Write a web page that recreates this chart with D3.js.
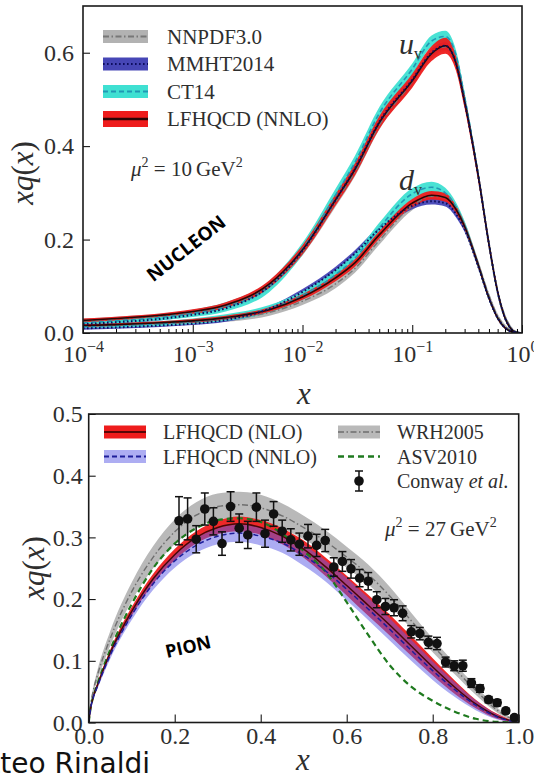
<!DOCTYPE html>
<html>
<head>
<meta charset="utf-8">
<script src="https://cdn.jsdelivr.net/npm/d3@7"></script>
<style>
  body { margin: 0; background: #fff; }
  svg { display: block; }
</style>
</head>
<body>
<script>
// valence distributions xq(x)

// ---- nucleon panel (log x), mu^2 = 10 GeV^2
const nucX = [1e-4, 2e-4, 5e-4, 1e-3, 2e-3, 5e-3, 1e-2, 2e-2, 3e-2, 5e-2, 0.1, 0.15, 0.2, 0.25, 0.3, 0.4, 0.5, 0.6, 0.7, 0.8, 0.9, 1.0];

const nnpdfU    = [.026, .030, .036, .044, .058, .102, .175, .280, .345, .445, .538, .598, .613, .578, .497, .338, .193, .090, .036, .011, .002, 0];
const nnpdfUErr = [.005, .005, .005, .006, .007, .008, .009, .010, .010, .010, .010, .010, .010, .010, .010, .009, .008, .007, .005, .003, .001, 0];
const nnpdfD    = [.015, .017, .020, .024, .030, .044, .068, .105, .138, .198, .272, .293, .290, .266, .230, .148, .080, .036, .014, .005, .001, 0];
const nnpdfDErr = [.004, .004, .004, .005, .006, .007, .008, .009, .009, .009, .009, .009, .009, .008, .008, .007, .006, .005, .004, .002, .001, 0];

const mmhtU    = [.019, .023, .030, .039, .053, .100, .176, .285, .352, .452, .542, .600, .615, .578, .495, .335, .190, .088, .032, .008, .001, 0];
const mmhtUErr = [.003, .003, .003, .003, .004, .005, .006, .007, .008, .008, .008, .008, .008, .008, .007, .006, .005, .004, .002, .001, 0, 0];
const mmhtD    = [.010, .012, .016, .020, .028, .052, .088, .135, .170, .222, .272, .282, .278, .255, .222, .142, .074, .032, .011, .003, .0005, 0];
const mmhtDErr = [.003, .003, .003, .003, .004, .005, .006, .007, .007, .007, .007, .007, .007, .007, .006, .005, .004, .003, .002, .001, 0, 0];

const ct14U    = [.022, .026, .033, .042, .056, .100, .180, .295, .365, .470, .565, .625, .635, .595, .505, .338, .190, .087, .032, .008, .001, 0];
const ct14UErr = [.004, .005, .006, .008, .010, .012, .013, .014, .014, .013, .012, .012, .012, .011, .010, .008, .006, .004, .002, .001, 0, 0];
const ct14D    = [.014, .016, .020, .025, .033, .052, .080, .125, .160, .225, .298, .312, .300, .270, .230, .145, .075, .032, .011, .003, .0005, 0];
const ct14DErr = [.003, .004, .005, .006, .007, .008, .009, .010, .010, .011, .012, .012, .011, .010, .009, .007, .005, .003, .002, .001, 0, 0];

const lfU    = [.027, .031, .038, .046, .060, .105, .178, .285, .350, .450, .540, .598, .615, .578, .495, .335, .190, .088, .032, .008, .001, 0];
const lfUErr = [.004, .004, .004, .005, .006, .008, .010, .012, .013, .014, .015, .016, .017, .016, .014, .011, .008, .005, .003, .001, 0, 0];
const lfD    = [.016, .018, .022, .026, .033, .050, .077, .118, .150, .210, .278, .295, .290, .265, .228, .145, .075, .032, .011, .003, .0005, 0];
const lfDErr = [.003, .003, .003, .004, .004, .005, .006, .007, .008, .008, .009, .009, .009, .008, .007, .006, .004, .003, .002, .001, 0, 0];

const nucXTicks = [1e-4, 1e-3, 1e-2, 1e-1, 1];
const nucXExp = ["\u22124", "\u22123", "\u22122", "\u22121", "0"];
const nucYTicks = [0.0, 0.2, 0.4, 0.6];
const nucLegend = ["NNPDF3.0", "MMHT2014", "CT14", "LFHQCD (NNLO)"];

// ---- pion panel (linear x), mu^2 = 27 GeV^2
const pionX = [0, 0.005, 0.01, 0.02, 0.05, 0.1, 0.15, 0.2, 0.25, 0.3, 0.35, 0.4, 0.45, 0.5, 0.55, 0.6, 0.65, 0.7, 0.75, 0.8, 0.85, 0.9, 0.95, 1.0];

const nloV    = [0, .025, .040, .060, .113, .180, .233, .272, .300, .316, .322, .316, .302, .281, .253, .222, .190, .158, .124, .090, .058, .030, .010, 0];
const nloErr  = [0, .002, .003, .004, .005, .007, .008, .009, .010, .011, .012, .012, .013, .014, .015, .016, .017, .017, .016, .014, .011, .007, .004, 0];
const nnloV   = [0, .025, .039, .058, .109, .174, .225, .262, .287, .302, .307, .302, .291, .271, .246, .216, .184, .151, .117, .084, .054, .028, .009, 0];
const nnloErr = [0, .002, .003, .004, .006, .008, .010, .011, .012, .013, .014, .015, .016, .017, .017, .018, .018, .018, .017, .015, .012, .008, .004, 0];
const wrhV    = [0, .031, .050, .076, .136, .212, .268, .309, .336, .350, .353, .348, .335, .316, .294, .268, .240, .205, .165, .125, .088, .052, .020, 0];
const wrhErr  = [0, .003, .005, .008, .012, .015, .018, .020, .021, .021, .021, .021, .020, .019, .018, .017, .016, .015, .013, .011, .009, .007, .004, 0];
const asvV    = [0, .026, .040, .062, .118, .192, .250, .290, .315, .328, .331, .325, .306, .278, .245, .195, .142, .093, .058, .035, .018, .006, .001, 0];

// Conway et al. data
const conwayX = [0.21, 0.23, 0.25, 0.27, 0.29, 0.31, 0.33, 0.35, 0.37, 0.39, 0.41, 0.43, 0.45, 0.47, 0.49, 0.51, 0.53, 0.55, 0.57, 0.59,
                 0.61, 0.63, 0.65, 0.67, 0.69, 0.71, 0.73, 0.75, 0.77, 0.79, 0.81, 0.83, 0.85, 0.87, 0.89, 0.91, 0.93, 0.95, 0.97, 0.99];
const conwayV = [.327, .330, .297, .346, .326, .290, .350, .315, .304, .349, .306, .338, .310, .296, .289, .302, .287, .295, .252, .261,
                 .249, .234, .229, .199, .188, .186, .177, .147, .144, .130, .128, .098, .092, .092, .064, .055, .037, .032, .019, .008];
const conwayErr = [.039, .034, .022, .026, .022, .019, .024, .023, .022, .023, .022, .020, .018, .018, .018, .019, .018, .018, .015, .016,
                   .015, .014, .014, .013, .013, .013, .012, .010, .010, .010, .010, .008, .008, .009, .007, .006, .005, .005, .004, .003];

const pionXTicks = [0.0, 0.2, 0.4, 0.6, 0.8, 1.0];
const pionYTicks = [0.0, 0.1, 0.2, 0.3, 0.4, 0.5];
const pionLegend = ["LFHQCD (NLO)", "LFHQCD (NNLO)", "WRH2005", "ASV2010", "Conway "];

// ---------------------------------------------------------------
const W = 534, H = 778;
const ink = "#2e2e2e";
const SERIF = "Liberation Serif";

const svg = d3.select("body").append("svg")
  .attr("width", W).attr("height", H)
  .style("background-color", "white");

const boxN = {left: 83, right: 522, top: 6, bottom: 333};
const boxP = {left: 88.7, right: 518.7, top: 414, bottom: 722.5};

const xN = d3.scaleLog().domain([1e-4, 1]).range([boxN.left, boxN.right]);
const yN = d3.scaleLinear().domain([0, 0.7]).range([boxN.bottom, boxN.top]);
const xP = d3.scaleLinear().domain([0, 1]).range([boxP.left, boxP.right]);
const yP = d3.scaleLinear().domain([0, 0.5]).range([boxP.bottom, boxP.top]);

const defs = svg.append("defs");
defs.append("clipPath").attr("id", "clipN").append("rect")
  .attr("x", boxN.left).attr("y", boxN.top)
  .attr("width", boxN.right - boxN.left).attr("height", boxN.bottom - boxN.top);
defs.append("clipPath").attr("id", "clipP").append("rect")
  .attr("x", boxP.left).attr("y", boxP.top)
  .attr("width", boxP.right - boxP.left).attr("height", boxP.bottom - boxP.top);

function rows(xs, vals, errs) {
  return xs.map((x, i) => ({x: x, v: vals[i], e: errs ? errs[i] : 0}));
}

function band(g, pts, xS, yS, color, op) {
  const area = d3.area()
    .x(d => xS(d.x))
    .y0(d => yS(Math.max(0, d.v - d.e)))
    .y1(d => yS(d.v + d.e))
    .curve(d3.curveMonotoneX);
  g.append("path").datum(pts).attr("d", area)
    .attr("fill", color).attr("fill-opacity", op);
}

function curve(g, pts, xS, yS, color, width, dash) {
  const line = d3.line().x(d => xS(d.x)).y(d => yS(d.v)).curve(d3.curveMonotoneX);
  g.append("path").datum(pts).attr("d", line)
    .attr("fill", "none").attr("stroke", color)
    .attr("stroke-width", width)
    .attr("stroke-dasharray", dash || null);
}

function serifText(sel, size) {
  return sel.attr("font-family", SERIF).style("font-family", SERIF)
    .attr("font-size", size).style("font-size", size + "px").attr("fill", ink);
}

// ---------------- nucleon panel
const gN = svg.append("g").attr("clip-path", "url(#clipN)");

const nucSets = [
  {u: nnpdfU, ue: nnpdfUErr, d: nnpdfD, de: nnpdfDErr, fill: "#b2b2b2", op: 0.95, line: "#777777", w: 1.5, dash: "6,2.5,1.5,2.5"},
  {u: mmhtU, ue: mmhtUErr, d: mmhtD, de: mmhtDErr, fill: "#4646b6", op: 0.95, line: "#0d0d5e", w: 2, dash: "1.6,2.4"},
  {u: ct14U, ue: ct14UErr, d: ct14D, de: ct14DErr, fill: "#3fe0d2", op: 0.95, line: "#2197b4", w: 1.6, dash: "5,3"},
  {u: lfU, ue: lfUErr, d: lfD, de: lfDErr, fill: "#ee1c1c", op: 0.95, line: "#2a0505", w: 1.6, dash: null}
];

nucSets.forEach(s => {
  band(gN, rows(nucX, s.d, s.de), xN, yN, s.fill, s.op);
  band(gN, rows(nucX, s.u, s.ue), xN, yN, s.fill, s.op);
});
// lines on top of the bands
[0, 2, 3, 1].forEach(k => {
  const s = nucSets[k];
  curve(gN, rows(nucX, s.d), xN, yN, s.line, s.w, s.dash);
  curve(gN, rows(nucX, s.u), xN, yN, s.line, s.w, s.dash);
});

// axes
svg.append("g").attr("transform", "translate(" + boxN.left + ",0)")
  .call(d3.axisLeft(yN).tickValues(nucYTicks).tickSize(-7).tickPadding(9).tickFormat(d3.format(".1f")))
  .call(g => g.select(".domain").remove())
  .call(g => serifText(g, 24))
  .call(g => serifText(g.selectAll("text"), 24));

const minorN = [];
for (let e = -4; e < 0; e++) for (let m = 2; m < 10; m++) minorN.push(m * Math.pow(10, e));

svg.append("g").attr("transform", "translate(0," + boxN.bottom + ")")
  .call(d3.axisBottom(xN).tickValues(minorN).tickSize(-4).tickFormat(""))
  .call(g => g.select(".domain").remove());

svg.append("g").attr("transform", "translate(0," + boxN.bottom + ")")
  .call(d3.axisBottom(xN).tickValues(nucXTicks).tickSize(-8).tickPadding(12).tickFormat(() => "10"))
  .call(g => g.select(".domain").remove())
  .call(g => serifText(g, 24))
  .call(g => serifText(g.selectAll("text"), 24)
    .each(function(d, i) {
      d3.select(this).append("tspan").attr("dy", -10).style("font-size", "16px").text(nucXExp[i]);
    }));

svg.append("rect")
  .attr("x", boxN.left).attr("y", boxN.top)
  .attr("width", boxN.right - boxN.left).attr("height", boxN.bottom - boxN.top)
  .attr("fill", "none").attr("stroke", "#1a1a1a").attr("stroke-width", 1.6);

// legend (nucleon)
const legN = svg.append("g");
nucLegend.forEach((name, i) => {
  const cy = 36.5 + i * 27.5;
  const s = nucSets[i];
  const h = i === 3 ? 16 : 13;
  legN.append("rect").attr("x", 103).attr("y", cy - h / 2).attr("width", 45).attr("height", h)
    .attr("fill", s.fill);
  legN.append("line").attr("x1", 103).attr("x2", 148).attr("y1", cy).attr("y2", cy)
    .attr("stroke", s.line).attr("stroke-width", i === 3 ? 2.6 : 2).attr("stroke-dasharray", s.dash);
  serifText(legN.append("text"), 21).attr("x", 167).attr("y", cy + 7).text(name);
});

// annotations
function mu2(x, y, val) {
  const t = serifText(svg.append("text"), 21).attr("x", x).attr("y", y);
  t.append("tspan").attr("font-style", "italic").text("\u03bc");
  t.append("tspan").attr("dy", -9).style("font-size", "14px").text("2");
  t.append("tspan").attr("dy", 9).text(" = " + val + "\u2009GeV");
  t.append("tspan").attr("dy", -9).style("font-size", "14px").text("2");
}
mu2(131, 176, "10");

function flavour(x, y, q) {
  const t = serifText(svg.append("text"), 30).attr("x", x).attr("y", y);
  t.append("tspan").attr("font-style", "italic").text(q);
  t.append("tspan").attr("dy", 5).style("font-size", "16px").text("v");
}
flavour(399, 54, "u");
flavour(399, 190, "d");

svg.append("text")
  .attr("transform", "translate(186,248) rotate(-38)")
  .attr("text-anchor", "middle").attr("dominant-baseline", "central")
  .style("font-family", '"Open Sans", sans-serif').attr("font-weight", 700)
  .style("font-size", "19px").attr("fill", "#000").text("NUCLEON");

function yLabel(x, y) {
  const t = serifText(svg.append("text"), 31)
    .attr("transform", "translate(" + x + "," + y + ") rotate(-90)")
    .attr("text-anchor", "middle");
  t.append("tspan").attr("font-style", "italic").text("xq");
  t.append("tspan").text("(");
  t.append("tspan").attr("font-style", "italic").text("x");
  t.append("tspan").text(")");
}
yLabel(33, 173);

function xLabel(x, y) {
  serifText(svg.append("text"), 31).attr("x", x).attr("y", y).attr("text-anchor", "middle")
    .attr("font-style", "italic").text("x");
}
xLabel(304, 404);

// ---------------- pion panel
const gP = svg.append("g").attr("clip-path", "url(#clipP)");

band(gP, rows(pionX, wrhV, wrhErr), xP, yP, "#b9b9b9", 1);
band(gP, rows(pionX, nloV, nloErr), xP, yP, "#ee1c1c", 0.95);
band(gP, rows(pionX, nnloV, nnloErr), xP, yP, "#5a5ae6", 0.5);

curve(gP, rows(pionX, wrhV), xP, yP, "#6e6e6e", 1.4, "6,2.5,1.5,2.5");
curve(gP, rows(pionX, asvV), xP, yP, "#1f7a1f", 2.2, "6,4");
curve(gP, rows(pionX, nloV), xP, yP, "#4a0606", 1.5, null);
curve(gP, rows(pionX, nnloV), xP, yP, "#1e1e9a", 1.5, "5,3");

// data points with error bars
const pts = rows(conwayX, conwayV, conwayErr);
const pg = svg.append("g").selectAll("g").data(pts).enter().append("g");
pg.append("line")
  .attr("x1", d => xP(d.x)).attr("x2", d => xP(d.x))
  .attr("y1", d => yP(d.v - d.e)).attr("y2", d => yP(d.v + d.e))
  .attr("stroke", "#111").attr("stroke-width", 1.5);
[-1, 1].forEach(sgn => {
  pg.append("line")
    .attr("x1", d => xP(d.x) - 4).attr("x2", d => xP(d.x) + 4)
    .attr("y1", d => yP(d.v + sgn * d.e)).attr("y2", d => yP(d.v + sgn * d.e))
    .attr("stroke", "#111").attr("stroke-width", 1.5);
});
pg.append("circle").attr("cx", d => xP(d.x)).attr("cy", d => yP(d.v)).attr("r", 4.8).attr("fill", "#111");

// axes
svg.append("g").attr("transform", "translate(" + boxP.left + ",0)")
  .call(d3.axisLeft(yP).tickValues(pionYTicks).tickSize(-7).tickPadding(6).tickFormat(d3.format(".1f")))
  .call(g => g.select(".domain").remove())
  .call(g => serifText(g, 24))
  .call(g => serifText(g.selectAll("text"), 24));

svg.append("g").attr("transform", "translate(0," + boxP.bottom + ")")
  .call(d3.axisBottom(xP).tickValues(pionXTicks).tickSize(-8).tickPadding(4).tickFormat(d3.format(".1f")))
  .call(g => g.select(".domain").remove())
  .call(g => serifText(g, 24))
  .call(g => serifText(g.selectAll("text"), 24));

svg.append("rect")
  .attr("x", boxP.left).attr("y", boxP.top)
  .attr("width", boxP.right - boxP.left).attr("height", boxP.bottom - boxP.top)
  .attr("fill", "none").attr("stroke", "#1a1a1a").attr("stroke-width", 1.6);

// legend (pion)
const legP = svg.append("g");
function patch(x, cy, fill, line, w, dash) {
  if (fill) legP.append("rect").attr("x", x).attr("y", cy - 6.5).attr("width", 42).attr("height", 13).attr("fill", fill);
  legP.append("line").attr("x1", x).attr("x2", x + 42).attr("y1", cy).attr("y2", cy)
    .attr("stroke", line).attr("stroke-width", w).attr("stroke-dasharray", dash);
}
patch(104, 432, "#ee1c1c", "#5a0606", 2, null);
patch(104, 456.5, "#adadf2", "#1e1e9a", 1.8, "5,3");
patch(338, 432, "#b9b9b9", "#6e6e6e", 1.5, "6,2.5,1.5,2.5");
patch(338, 456.5, null, "#1f7a1f", 2.4, "6,4");
serifText(legP.append("text"), 20).attr("x", 163).attr("y", 439).text(pionLegend[0]);
serifText(legP.append("text"), 20).attr("x", 163).attr("y", 463.5).text(pionLegend[1]);
serifText(legP.append("text"), 20).attr("x", 397).attr("y", 439).text(pionLegend[2]);
serifText(legP.append("text"), 20).attr("x", 397).attr("y", 463.5).text(pionLegend[3]);
const ct = serifText(legP.append("text"), 20).attr("x", 397).attr("y", 488).text(pionLegend[4]);
ct.append("tspan").attr("font-style", "italic").text("et al.");
legP.append("line").attr("x1", 359).attr("x2", 359).attr("y1", 471).attr("y2", 491).attr("stroke", "#111").attr("stroke-width", 1.5);
legP.append("line").attr("x1", 355).attr("x2", 363).attr("y1", 471).attr("y2", 471).attr("stroke", "#111").attr("stroke-width", 1.5);
legP.append("line").attr("x1", 355).attr("x2", 363).attr("y1", 491).attr("y2", 491).attr("stroke", "#111").attr("stroke-width", 1.5);
legP.append("circle").attr("cx", 359).attr("cy", 481).attr("r", 4.8).attr("fill", "#111");

mu2(385, 536, "27");

svg.append("text")
  .attr("transform", "translate(188,646) rotate(-13)")
  .attr("text-anchor", "middle").attr("dominant-baseline", "central")
  .style("font-family", '"Open Sans", sans-serif').attr("font-weight", 700)
  .style("font-size", "18px").attr("fill", "#000").text("PION");

yLabel(44, 568);
xLabel(303, 770);

// author credit, cut at the left edge
svg.append("text").attr("x", 150).attr("y", 773).attr("text-anchor", "end")
  .style("font-family", '"DejaVu Sans", sans-serif').style("font-size", "28px")
  .attr("fill", "#111").text("Matteo Rinaldi");
</script>
</body>
</html>
